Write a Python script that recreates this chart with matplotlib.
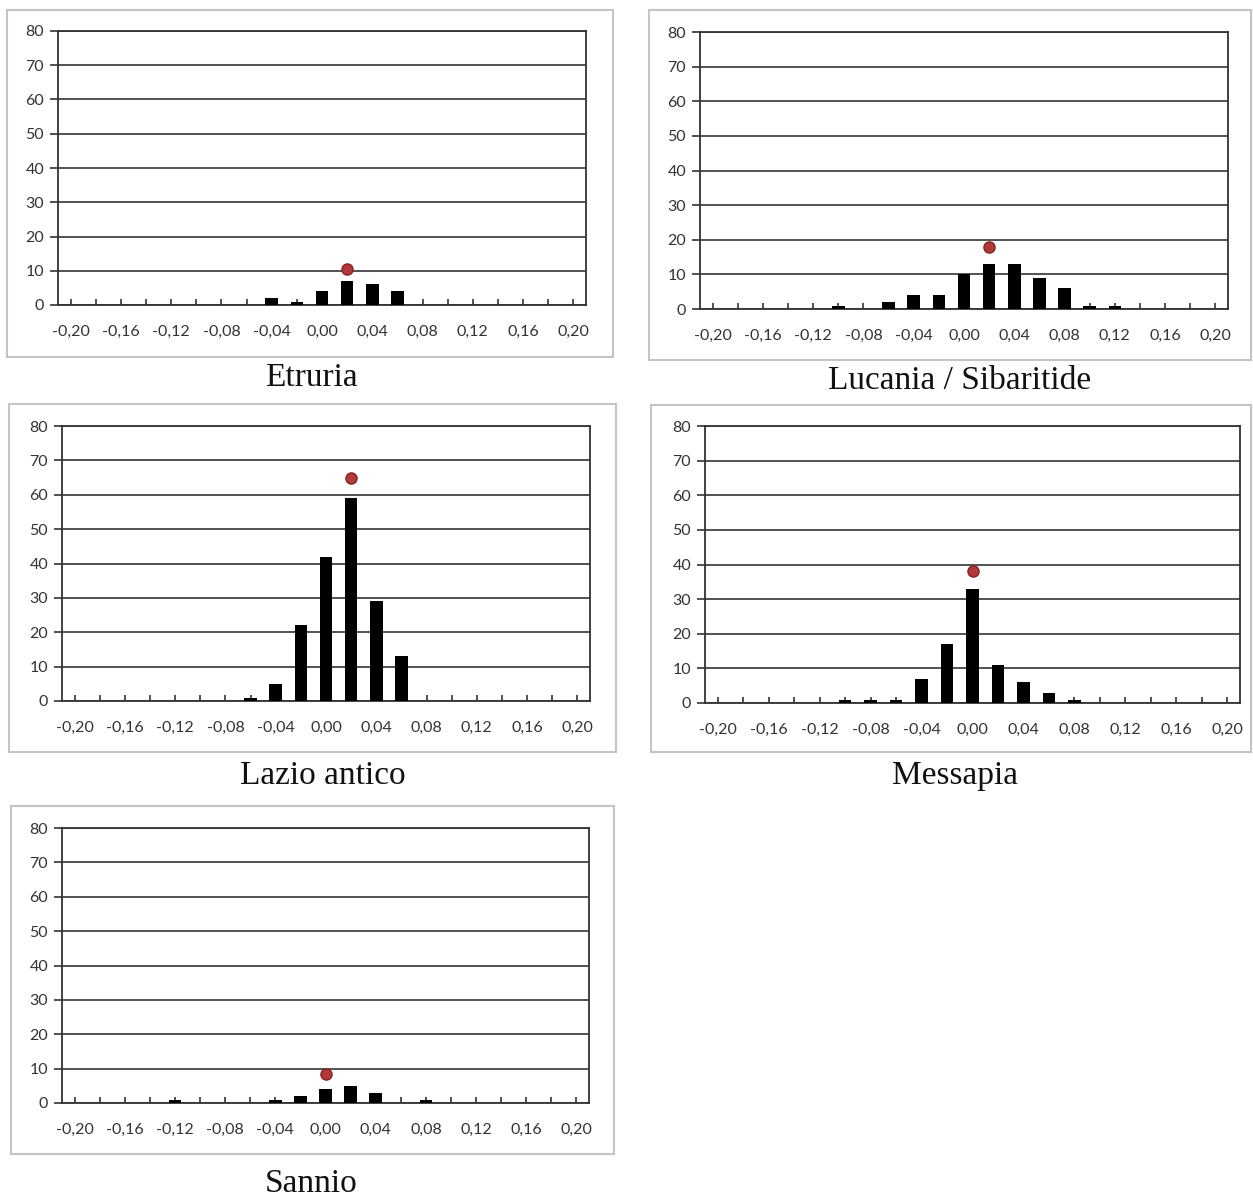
import matplotlib.pyplot as plt
from matplotlib.patches import Rectangle

# categorie (classi) sull'asse x
cats = [-0.20, -0.18, -0.16, -0.14, -0.12, -0.10, -0.08, -0.06, -0.04, -0.02, 0.00,
        0.02, 0.04, 0.06, 0.08, 0.10, 0.12, 0.14, 0.16, 0.18, 0.20]
tick_vals = [-0.20, -0.16, -0.12, -0.08, -0.04, 0.00, 0.04, 0.08, 0.12, 0.16, 0.20]
tick_labels = ['-0,20', '-0,16', '-0,12', '-0,08', '-0,04', '0,00', '0,04', '0,08', '0,12', '0,16', '0,20']

etruria = [0, 0, 0, 0, 0, 0, 0, 0, 2, 1, 4, 7, 6, 4, 0, 0, 0, 0, 0, 0, 0]
lucania = [0, 0, 0, 0, 0, 1, 0, 2, 4, 4, 10, 13, 13, 9, 6, 1, 1, 0, 0, 0, 0]
lazio = [0, 0, 0, 0, 0, 0, 0, 1, 5, 22, 42, 59, 29, 13, 0, 0, 0, 0, 0, 0, 0]
messapia = [0, 0, 0, 0, 0, 1, 1, 1, 7, 17, 33, 11, 6, 3, 1, 0, 0, 0, 0, 0, 0]
sannio = [0, 0, 0, 0, 1, 0, 0, 0, 1, 2, 4, 5, 3, 0, 1, 0, 0, 0, 0, 0, 0]

# punto rosso (valore di riferimento)
dots = {'Etruria': (0.02, 10.5), 'Lucania / Sibaritide': (0.02, 18),
        'Lazio antico': (0.02, 65), 'Messapia': (0.00, 38), 'Sannio': (0.00, 8.5)}

W, H = 1253, 1201
fig = plt.figure(figsize=(W / 100, H / 100), dpi=100)

# (nome, dati, area grafico px, cornice px, titolo px)
panels = [
    ('Etruria', etruria, (58, 31, 586, 305), (7, 10, 613, 357), (311, 378)),
    ('Lucania / Sibaritide', lucania, (700, 32, 1228, 309), (649, 10, 1251, 360), (960, 381)),
    ('Lazio antico', lazio, (62, 426, 590, 701), (9, 404, 616, 752), (323, 776)),
    ('Messapia', messapia, (705, 426, 1240, 703), (651, 405, 1251, 752), (955, 776)),
    ('Sannio', sannio, (62, 828, 589, 1103), (11, 806, 614, 1154), (311, 1184)),
]

for name, vals, pa, box, tpos in panels:
    # cornice grigia
    fig.patches.append(Rectangle((box[0] / W, 1 - box[3] / H), (box[2] - box[0]) / W,
                                 (box[3] - box[1]) / H, transform=fig.transFigure,
                                 fill=False, edgecolor='#c4c4c4', linewidth=1.5))
    ax = fig.add_axes([pa[0] / W, 1 - pa[3] / H, (pa[2] - pa[0]) / W, (pa[3] - pa[1]) / H])
    ax.bar(cats, vals, width=0.01, color='black', zorder=3)
    x, y = dots[name]
    ax.plot([x], [y], 'o', color='#b03a3a', markeredgecolor='#8a2020', markersize=8, zorder=4)
    ax.set_xlim(-0.21, 0.21)
    ax.set_ylim(0, 80)
    ax.set_yticks(range(0, 81, 10))
    ax.set_xticks(tick_vals)
    ax.set_xticklabels(tick_labels)
    ax.set_xticks(cats, minor=True)
    ax.grid(axis='y', color='#444444', linewidth=1.3, zorder=1)
    for s in ax.spines.values():
        s.set_color('#333333')
        s.set_linewidth(1.3)
    ax.tick_params(axis='y', length=6, width=1.2, color='#333333', labelsize=11.5,
                   labelcolor='#333333', pad=4)
    ax.tick_params(axis='x', which='both', direction='in', length=4, width=1.2,
                   color='#333333', labelsize=11.5, labelcolor='#333333', pad=14)
    for lab in ax.get_xticklabels() + ax.get_yticklabels():
        lab.set_family('Lato')
    fig.text(tpos[0] / W, 1 - tpos[1] / H, name, ha='center', va='center',
             family='Liberation Serif', fontsize=24, color='#111111')

fig.savefig('out.png', dpi=100)
